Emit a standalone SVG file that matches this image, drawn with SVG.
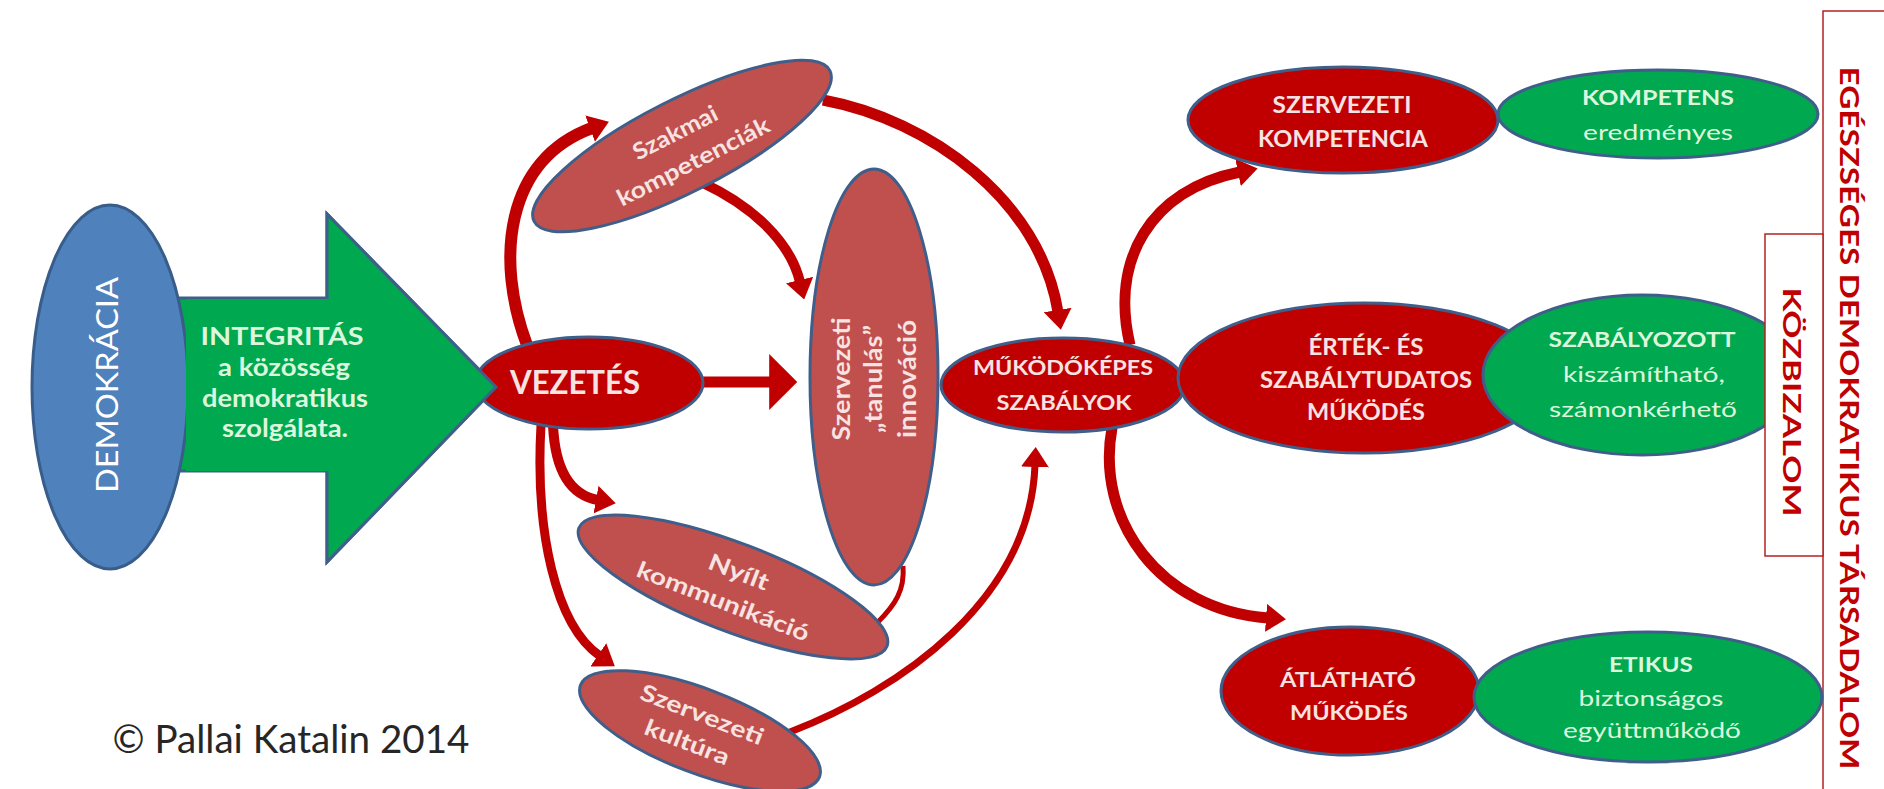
<svg xmlns="http://www.w3.org/2000/svg" width="1884" height="789" viewBox="0 0 1884 789">
<defs>
<style>
.dk{fill:#c00000;stroke:#3f5f8a;stroke-width:3}
.lt{fill:#c0504d;stroke:#3f5f8a;stroke-width:3}
.gr{fill:#00a84f;stroke:#3f5f8a;stroke-width:3}
.conn{fill:none;stroke:#c00000;stroke-linecap:butt}
text{font-family:Lato,'Liberation Sans',sans-serif;text-anchor:middle}
.tw{fill:#f7e3e2;font-weight:bold}
.tg{fill:#dcf7dc}
.b{font-weight:bold}
.box{fill:#ffffff;stroke:#b22222;stroke-width:1.5}
.side{fill:#c00000;font-weight:bold}
</style>
<marker id="ah" viewBox="0 0 10 10" refX="1" refY="5" markerUnits="userSpaceOnUse" markerWidth="20" markerHeight="28" orient="auto" preserveAspectRatio="none"><path d="M0,0 L10,5 L0,10 z" fill="#c00000"/></marker>
<marker id="ahBig" viewBox="0 0 10 10" refX="1" refY="5" markerUnits="userSpaceOnUse" markerWidth="28" markerHeight="56" orient="auto" preserveAspectRatio="none"><path d="M0,0 L10,5 L0,10 z" fill="#c00000"/></marker>
</defs>
<rect x="0" y="0" width="1884" height="789" fill="#ffffff"/>

<g id="frames">
<rect class="box" x="1823" y="11" width="100" height="800"/>
</g>

<g id="connectors">
<path class="conn" stroke-width="12" d="M527 345 C495 260 505 160 592 128" marker-end="url(#ah)"/>
<path class="conn" stroke-width="10" d="M703 183 C750 205 790 240 800 282" marker-end="url(#ah)"/>
<path class="conn" stroke-width="11" d="M823 100 C930 120 1040 200 1058 312" marker-end="url(#ah)"/>
<path class="conn" stroke-width="11" d="M1130 345 C1110 260 1150 190 1240 172" marker-end="url(#ah)"/>
<path class="conn" stroke-width="11" d="M1112 428 C1095 520 1160 610 1268 618" marker-end="url(#ah)"/>
<path class="conn" stroke-width="5" d="M878 622 C895 605 905 590 903 566"/>
<path class="conn" stroke-width="7" d="M790 732 C900 690 1030 600 1035 465" marker-end="url(#ah)"/>
<path class="conn" stroke-width="10" d="M553 425 C555 470 570 495 598 500" marker-end="url(#ah)"/>
<path class="conn" stroke-width="9" d="M541 425 C535 530 555 625 600 656" marker-end="url(#ah)"/>
<path class="conn" stroke-width="11" d="M700 382 L772 382" marker-end="url(#ahBig)"/>
</g>

<g id="demokracia">
<polygon points="160,298 327,298 327,214 496,387 327,562 327,471 160,471" fill="#00a84f" stroke="#3f5f8a" stroke-width="3" stroke-linejoin="miter"/>
<ellipse cx="110" cy="387" rx="78" ry="182" fill="#4f81bd" stroke="#385d8a" stroke-width="3"/>
<text transform="translate(118,385) rotate(-90)" font-size="30" fill="#ffffff" textLength="216" lengthAdjust="spacingAndGlyphs">DEMOKRÁCIA</text>
</g>

<g id="vezetes">
<ellipse class="dk" cx="589" cy="383" rx="114" ry="46"/>
</g>

<g id="integritas">
<polygon points="186,299 327,299 327,214 496,387 327,562 327,471 186,471" fill="#00a84f" stroke="none"/>
<path d="M327 299 L327 214 L496 387 L327 562 L327 471" fill="none" stroke="#3f5f8a" stroke-width="3"/>
<text class="tg b" x="282" y="345" font-size="24" textLength="163" lengthAdjust="spacingAndGlyphs">INTEGRITÁS</text>
<text class="tg b" x="284" y="376" font-size="24" textLength="132" lengthAdjust="spacingAndGlyphs">a közösség</text>
<text class="tg b" x="285" y="407" font-size="24" textLength="166" lengthAdjust="spacingAndGlyphs">demokratikus</text>
<text class="tg b" x="285" y="437" font-size="24" textLength="126" lengthAdjust="spacingAndGlyphs">szolgálata.</text>
</g>

<g id="vezetes-label">
<text class="tw" x="575" y="394" font-size="32" textLength="130" lengthAdjust="spacingAndGlyphs">VEZETÉS</text>
</g>

<g id="szakmai" transform="translate(682,146) rotate(-27)">
<ellipse class="lt" cx="0" cy="0" rx="166" ry="46"/>
<text class="tw" x="0" y="-7" font-size="23" textLength="92" lengthAdjust="spacingAndGlyphs">Szakmai</text>
<text class="tw" x="3" y="27" font-size="23" textLength="168" lengthAdjust="spacingAndGlyphs">kompetenciák</text>
</g>

<g id="nyilt" transform="translate(733,587) rotate(21)">
<ellipse class="lt" cx="0" cy="0" rx="165" ry="44"/>
<text class="tw" x="0" y="-8" font-size="23" textLength="63" lengthAdjust="spacingAndGlyphs">Nyílt</text>
<text class="tw" x="-4" y="25" font-size="23" textLength="183" lengthAdjust="spacingAndGlyphs">kommunikáció</text>
</g>

<g id="kultura" transform="translate(700,731) rotate(21)">
<ellipse class="lt" cx="0" cy="0" rx="128" ry="42"/>
<text class="tw" x="-4" y="-8" font-size="23" textLength="130" lengthAdjust="spacingAndGlyphs">Szervezeti</text>
<text class="tw" x="-8" y="23" font-size="23" textLength="89" lengthAdjust="spacingAndGlyphs">kultúra</text>
</g>

<g id="tanulas">
<ellipse class="lt" cx="874" cy="377" rx="64" ry="208"/>
<g transform="translate(874,379) rotate(-90)">
<text class="tw" x="0" y="-24" font-size="24" textLength="123" lengthAdjust="spacingAndGlyphs">Szervezeti</text>
<text class="tw" x="0" y="8" font-size="24" textLength="108" lengthAdjust="spacingAndGlyphs">„tanulás”</text>
<text class="tw" x="0" y="42" font-size="24" textLength="118" lengthAdjust="spacingAndGlyphs">innováció</text>
</g>
</g>

<g id="mukodokepes">
<ellipse class="dk" cx="1063" cy="385" rx="122" ry="47"/>
<text class="tw" x="1063" y="375" font-size="21" textLength="180" lengthAdjust="spacingAndGlyphs">MŰKÖDŐKÉPES</text>
<text class="tw" x="1064" y="410" font-size="21" textLength="135" lengthAdjust="spacingAndGlyphs">SZABÁLYOK</text>
</g>

<g id="szervezeti-kompetencia">
<ellipse class="dk" cx="1343" cy="120" rx="155" ry="53"/>
<text class="tw" x="1342" y="113" font-size="23" textLength="139" lengthAdjust="spacingAndGlyphs">SZERVEZETI</text>
<text class="tw" x="1343" y="147" font-size="23" textLength="170" lengthAdjust="spacingAndGlyphs">KOMPETENCIA</text>
</g>

<g id="kompetens">
<ellipse class="gr" cx="1658" cy="114" rx="160" ry="44"/>
<text class="tg b" x="1658" y="105" font-size="21" textLength="152" lengthAdjust="spacingAndGlyphs">KOMPETENS</text>
<text class="tg" x="1658" y="140" font-size="21" textLength="150" lengthAdjust="spacingAndGlyphs">eredményes</text>
</g>

<g id="ertek">
<ellipse class="dk" cx="1364" cy="378" rx="186" ry="75"/>
<text class="tw" x="1366" y="355" font-size="22" textLength="115" lengthAdjust="spacingAndGlyphs">ÉRTÉK- ÉS</text>
<text class="tw" x="1366" y="388" font-size="22" textLength="212" lengthAdjust="spacingAndGlyphs">SZABÁLYTUDATOS</text>
<text class="tw" x="1366" y="420" font-size="22" textLength="118" lengthAdjust="spacingAndGlyphs">MŰKÖDÉS</text>
</g>

<g id="szabalyozott">
<ellipse class="gr" cx="1642" cy="375" rx="159" ry="80"/>
<text class="tg b" x="1642" y="347" font-size="21" textLength="187" lengthAdjust="spacingAndGlyphs">SZABÁLYOZOTT</text>
<text class="tg" x="1644" y="382" font-size="21" textLength="162" lengthAdjust="spacingAndGlyphs">kiszámítható,</text>
<text class="tg" x="1643" y="417" font-size="21" textLength="188" lengthAdjust="spacingAndGlyphs">számonkérhető</text>
</g>

<g id="atlathato">
<ellipse class="dk" cx="1350" cy="691" rx="129" ry="64"/>
<text class="tw" x="1348" y="687" font-size="21" textLength="136" lengthAdjust="spacingAndGlyphs">ÁTLÁTHATÓ</text>
<text class="tw" x="1349" y="720" font-size="21" textLength="118" lengthAdjust="spacingAndGlyphs">MŰKÖDÉS</text>
</g>

<g id="etikus">
<ellipse class="gr" cx="1648" cy="697" rx="174" ry="65"/>
<text class="tg b" x="1651" y="672" font-size="21" textLength="84" lengthAdjust="spacingAndGlyphs">ETIKUS</text>
<text class="tg" x="1651" y="706" font-size="21" textLength="145" lengthAdjust="spacingAndGlyphs">biztonságos</text>
<text class="tg" x="1652" y="738" font-size="21" textLength="178" lengthAdjust="spacingAndGlyphs">együttműködő</text>
</g>

<g id="kozbizalom">
<rect class="box" x="1765" y="234" width="58" height="322"/>
<text class="side" transform="translate(1783,402) rotate(90)" font-size="25" textLength="229" lengthAdjust="spacingAndGlyphs">KÖZBIZALOM</text>
</g>

<g id="tarsadalom">
<text class="side" transform="translate(1840,418) rotate(90)" font-size="27" textLength="703" lengthAdjust="spacingAndGlyphs">EGÉSZSÉGES DEMOKRATIKUS TÁRSADALOM</text>
</g>

<g id="copyright">
<text x="291" y="753" font-size="38" fill="#262626" textLength="357" lengthAdjust="spacingAndGlyphs">© Pallai Katalin 2014</text>
</g>
</svg>
